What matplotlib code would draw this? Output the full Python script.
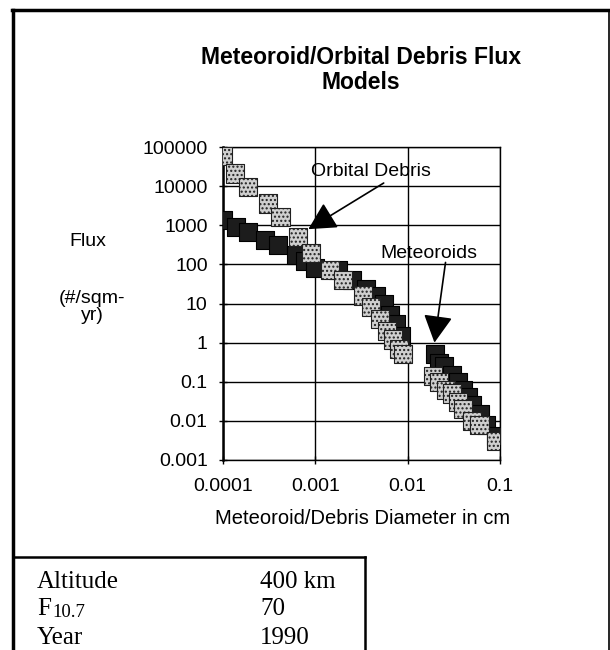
import numpy as np
import matplotlib
matplotlib.use("Agg")
from matplotlib import pyplot as plt
from matplotlib.lines import Line2D

plt.rcParams['font.family'] = ['Liberation Sans', 'DejaVu Sans']
plt.rcParams['font.size'] = 14

# meteoroids (dark squares)
met_d = [1e-4, 1.38e-4, 1.87e-4, 2.86e-4, 3.96e-4, 6.1e-4, 7.8e-4, 1.0e-3,
         1.78e-3, 2.5e-3, 3.5e-3, 4.5e-3, 5.5e-3, 6.5e-3, 7.5e-3, 8.5e-3,
         0.02, 0.022, 0.025, 0.03, 0.035, 0.04, 0.045, 0.05, 0.06, 0.07, 0.09]
met_f = [1350, 900, 660, 420, 310, 170, 125, 83,
         70, 39, 24, 16, 10, 5, 3, 1.5,
         0.5, 0.3, 0.25, 0.15, 0.1, 0.06, 0.04, 0.025, 0.015, 0.008, 0.004]

# orbital debris (light squares)
deb_d = [1e-4, 1.35e-4, 1.87e-4, 3.1e-4, 4.2e-4, 6.5e-4, 9e-4, 1.45e-3,
         2e-3, 3.3e-3, 4e-3, 5e-3, 6e-3, 7e-3, 8e-3, 9e-3,
         0.019, 0.022, 0.026, 0.03, 0.035, 0.04, 0.05, 0.06, 0.09]
deb_f = [59000, 21000, 9400, 3600, 1600, 490, 200, 70,
         40, 16, 8, 4, 2, 1.2, 0.7, 0.5,
         0.14, 0.1, 0.06, 0.05, 0.03, 0.02, 0.01, 0.008, 0.003]

yticks = [1e5, 1e4, 1e3, 1e2, 1e1, 1, 0.1, 0.01, 0.001]
ylabels = ["100000", "10000", "1000", "100", "10", "1", "0.1", "0.01", "0.001"]
xticks = [1e-4, 1e-3, 1e-2, 1e-1]
xlabels = ["0.0001", "0.001", "0.01", "0.1"]

table_rows = ["Altitude", "F", "Year"]
table_vals = ["400 km", "70", "1990"]

W, H = 610, 650
fig = plt.figure(figsize=(W / 100, H / 100), dpi=100)

def px(x, y):
    return x / W, 1 - y / H

ax = fig.add_axes([223 / W, 1 - 460 / H, (500 - 223) / W, (460 - 147) / H])
ax.set_xscale('log')
ax.set_yscale('log')
ax.set_xlim(1e-4, 0.1)
ax.set_ylim(1e-3, 1e5)

ax.scatter(met_d, met_f, s=170, marker='s', facecolor='#1c1c1c',
           edgecolor='black', linewidths=0.8, zorder=3)
ax.scatter(deb_d, deb_f, s=170, marker='s', facecolor='#cfcfcf',
           edgecolor='#202020', linewidths=0.8, hatch='....', zorder=4)

ax.set_xticks(xticks)
ax.set_xticklabels(xlabels)
ax.set_yticks(yticks)
ax.set_yticklabels(ylabels)
ax.minorticks_off()
ax.tick_params(axis='both', direction='inout', length=6, width=1, colors='black')
ax.tick_params(axis='y', pad=8)
ax.tick_params(axis='x', pad=10)
ax.grid(True, color='black', linewidth=1.0)
ax.set_axisbelow(True)
for sp in ax.spines.values():
    sp.set_linewidth(1.0)
ax.spines['left'].set_linewidth(1.8)

ax.text(0.0009, 23000, "Orbital Debris", ha='left', va='center', zorder=5)
ax.text(0.0051, 190, "Meteoroids", ha='left', va='center', zorder=5)
arrow = dict(arrowstyle='-|>,head_length=0.85,head_width=0.45', color='black',
             lw=1.2, mutation_scale=20, shrinkA=0, shrinkB=0)
ax.annotate('', xy=(0.00084, 794), xytext=(0.0055, 12000), arrowprops=arrow, zorder=6)
ax.annotate('', xy=(0.0195, 1.0), xytext=(0.0257, 112), arrowprops=arrow, zorder=6)

# titles and axis labels
fig.text(*px(361, 70), "Meteoroid/Orbital Debris Flux\nModels", ha='center',
         va='center', fontsize=16.5, fontweight='bold', linespacing=1.12)
fig.text(*px(88, 242), "Flux", ha='center', va='center')
fig.text(*px(92, 307), "(#/sqm-\nyr)", ha='center', va='center', linespacing=1.05)
fig.text(*px(363, 518), "Meteoroid/Debris Diameter in cm", ha='center', va='center',
         fontsize=14.5)

# outer frame
fig.add_artist(Line2D([13 / W, 13 / W], [0, 1 - 10 / H], color='black', lw=2.5))
fig.add_artist(Line2D([12 / W, 1], [1 - 10 / H, 1 - 10 / H], color='black', lw=2.5))
fig.add_artist(Line2D([608.5 / W, 608.5 / W], [0, 1 - 10 / H], color='black', lw=1.2))

# parameter table
fig.add_artist(Line2D([13 / W, 365 / W], [1 - 557 / H, 1 - 557 / H], color='black', lw=1.8))
fig.add_artist(Line2D([365 / W, 365 / W], [0, 1 - 557 / H], color='black', lw=1.8))
row_y = [588, 615, 644]
for name, val, y in zip(table_rows, table_vals, row_y):
    fig.text(*px(37, y), name, ha='left', va='baseline', fontsize=18,
             family='Liberation Serif')
    fig.text(*px(260, y), val, ha='left', va='baseline', fontsize=18,
             family='Liberation Serif')
fig.text(*px(52, 617), "10.7", ha='left', va='baseline', fontsize=13.5,
         family='Liberation Serif')

fig.savefig("out.png", dpi=100)
